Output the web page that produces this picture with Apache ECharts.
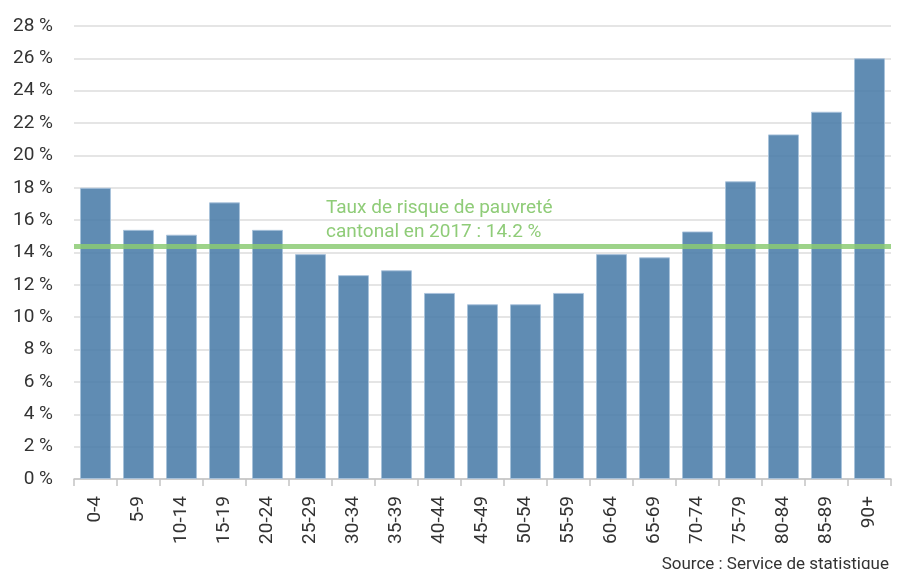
<!DOCTYPE html>
<html>
<head>
<meta charset="utf-8">
<script src="https://cdn.jsdelivr.net/npm/echarts@6/dist/echarts.min.js"></script>
<style>
  html, body { margin: 0; padding: 0; background: #fff; }
  #chart { width: 897px; height: 569px; }
</style>
</head>
<body>
<div id="chart"></div>
<script>
// age groups
const ageGroups = ["0-4", "5-9", "10-14", "15-19", "20-24", "25-29", "30-34", "35-39", "40-44",
  "45-49", "50-54", "55-59", "60-64", "65-69", "70-74", "75-79", "80-84", "85-89", "90+"];
// poverty risk rate by age group (%)
const riskRate = [18.0, 15.4, 15.1, 17.1, 15.4, 13.9, 12.6, 12.9, 11.5,
  10.8, 10.8, 11.5, 13.9, 13.7, 15.3, 18.4, 21.3, 22.7, 26.0];
// cantonal reference line (as drawn)
const cantonalLine = 14.4;
const cantonalText = "Taux de risque de pauvreté\ncantonal en 2017 : 14.2 %";
const sourceText = "Source : Service de statistique";

const chart = echarts.init(document.getElementById("chart"));
const font = "Roboto";

chart.setOption({
  animation: false,
  textStyle: { fontFamily: font },
  title: [
    {
      text: cantonalText,
      left: 321,
      top: 191,
      textStyle: {
        color: "#8fcc78",
        fontSize: 19,
        fontWeight: "normal",
        fontFamily: font,
        lineHeight: 24,
      },
    },
    {
      text: sourceText,
      right: 3,
      top: 551,
      textStyle: {
        color: "#333333",
        fontSize: 17,
        fontWeight: "normal",
        fontFamily: font,
      },
    },
  ],
  grid: { left: 74, right: 6, top: 26, bottom: 90 },
  xAxis: {
    type: "category",
    data: ageGroups,
    axisLine: { lineStyle: { color: "#c4c4c4", width: 1.5 } },
    axisTick: { show: true, length: 7, lineStyle: { color: "#c4c4c4", width: 1.5 } },
    axisLabel: {
      rotate: 90,
      margin: 17,
      color: "#333333",
      fontSize: 19,
      fontFamily: font,
    },
  },
  yAxis: {
    type: "value",
    min: 0,
    max: 28,
    interval: 2,
    axisLine: { show: false },
    axisTick: { show: false },
    splitLine: { lineStyle: { color: "#dcdcdc", width: 1.5 } },
    axisLabel: {
      formatter: "{value} %",
      margin: 21,
      color: "#333333",
      fontSize: 19,
      fontFamily: font,
    },
  },
  series: [
    {
      type: "bar",
      data: riskRate,
      barCategoryGap: "28%",
      itemStyle: {
        color: "#4f7fab",
        opacity: 0.9,
        borderColor: "#a9c2db",
        borderWidth: 1,
      },
      markLine: {
        silent: true,
        symbol: "none",
        label: { show: false },
        lineStyle: { color: "#8ccb74", width: 5, type: "solid", opacity: 0.85 },
        data: [{ yAxis: cantonalLine }],
      },
    },
  ],
});
</script>
</body>
</html>
